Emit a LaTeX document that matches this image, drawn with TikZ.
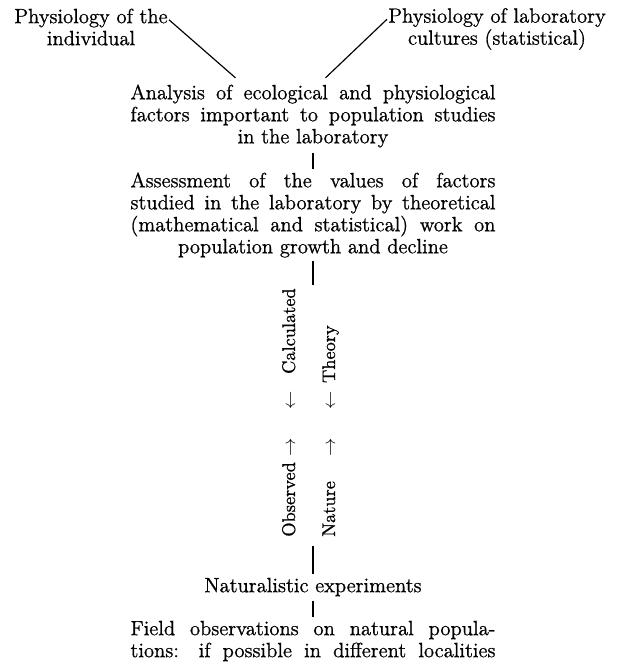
\documentclass[tikz,border=0pt]{standalone}
\usepackage{fontspec}
\setmainfont{Latin Modern Roman}[FakeBold=0.9]
\usetikzlibrary{positioning}

\begin{document}
\begin{tikzpicture}[x=0.6pt,y=-0.6pt,
    every node/.style={inner sep=0pt,font=\fontsize{12.4}{13.2}\selectfont},
    block/.style={align=center},
    side/.style={rotate=90,font=\fontsize{11}{13}\selectfont},
    link/.style={line width=0.7pt}]
  \useasboundingbox (0,0) rectangle (618,665);
  % top: the two kinds of physiology
  \node[block] (physind) at (91,27) {Physiology of the\\individual};
  \node[block] (physlab) at (497,29) {Physiology of laboratory\\cultures (statistical)};
  \node[block] (analysis) at (313,116)
    {\makebox[219pt][s]{Analysis of ecological and physiological}\\
     \makebox[219pt][s]{factors important to population studies}\\
     in the laboratory};
  \node[block] (assess) at (313,215)
    {\makebox[219pt][s]{Assessment of the values of factors}\\
     \makebox[219pt][s]{studied in the laboratory by theoretical}\\
     \makebox[219pt][s]{(mathematical and statistical) work on}\\
     population growth and decline};
  % the two upright columns
  \node[side,anchor=base west] (observed) at (295,537) {Observed};
  \node[side,anchor=base] (obsup) at (295,447) {$\rightarrow$};
  \node[side,anchor=base] (calcdown) at (295,400) {$\leftarrow$};
  \node[side,anchor=base east] (calculated) at (295,288) {Calculated};
  \node[side,anchor=base west] (nature) at (335,537) {Nature};
  \node[side,anchor=base] (natup) at (335,447) {$\rightarrow$};
  \node[side,anchor=base] (theodown) at (335,400) {$\leftarrow$};
  \node[side,anchor=base east] (theory) at (335,325) {Theory};
  \coordinate (midtop) at (313,285);
  \coordinate (midbot) at (313,546);
  % bottom
  \node[block] (natural) at (313,587) {Naturalistic experiments};
  \node[block] (field) at (313,641)
    {\makebox[219pt][s]{Field observations on natural popula-}\\
     \makebox[219pt][s]{tions: if possible in different localities}};

  \draw[link] ([shift={(0.6pt,-6.9pt)}]physind.north east) -- ([shift={(-46.5pt,3.8pt)}]analysis.north);
  \draw[link] ([shift={(-0.6pt,-6.9pt)}]physlab.north west) -- ([shift={(7.5pt,3.8pt)}]analysis.north);
  \draw[link] ([yshift=-3pt]analysis.south) -- ([yshift=2pt]assess.north);
  \draw[link] ([yshift=-2pt]assess.south) -- (midtop);
  \draw[link] (midbot) -- ([yshift=2pt]natural.north);
  \draw[link] ([yshift=-2.5pt]natural.south) -- ([yshift=2pt]field.north);
\end{tikzpicture}
\end{document}
